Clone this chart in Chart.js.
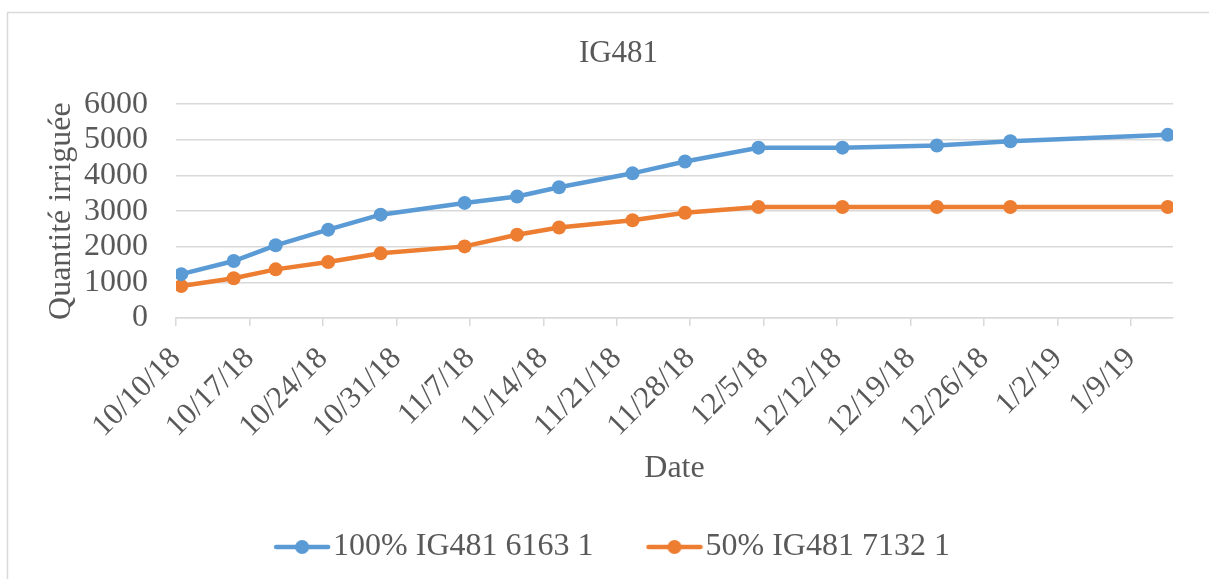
<!DOCTYPE html>
<html lang="fr">
<head>
    <meta charset="UTF-8">
    <title>IG481</title>
    <style>
        html, body { margin: 0; padding: 0; background: #fff; }
        #wrap { width: 1209px; height: 579px; }
    </style>
    <script src="https://cdn.jsdelivr.net/npm/chart.js"></script>
</head>
<body>
    <div id="wrap"><canvas id="chart" width="1209" height="579"></canvas></div>
    <script>
        // données
        const dates = ['10/10/18', '10/15/18', '10/19/18', '10/24/18', '10/29/18', '11/6/18', '11/11/18', '11/15/18',
                       '11/22/18', '11/27/18', '12/4/18', '12/12/18', '12/21/18', '12/28/18', '1/12/19'];
        const irr100 = [1230, 1600, 2040, 2480, 2900, 3230, 3410, 3670, 4060, 4390, 4780, 4780, 4840, 4960, 5140];
        const irr50 = [900, 1115, 1365, 1570, 1815, 2010, 2335, 2540, 2745, 2955, 3115, 3115, 3115, 3115, 3115];
        const tickLabels = ['10/10/18', '10/17/18', '10/24/18', '10/31/18', '11/7/18', '11/14/18', '11/21/18',
                            '11/28/18', '12/5/18', '12/12/18', '12/19/18', '12/26/18', '1/2/19', '1/9/19'];
        const seriesNames = ['100% IG481 6163 1', '50% IG481 7132 1'];
        const colors = ['#5B9BD5', '#ED7D31'];

        const textColor = '#595959';
        const gridColor = '#D9D9D9';
        const serif = '"Liberation Serif", "Times New Roman", serif';

        // jours depuis la première date
        function toDay(s) {
            const p = s.split('/');
            return Date.UTC(2000 + (+p[2]), p[0] - 1, +p[1]) / 86400000;
        }
        const day0 = toDay(dates[0]);
        const dayOf = s => toDay(s) - day0;

        function points(vals) {
            // Excel place le point au milieu du jour
            return dates.map((d, i) => ({ x: dayOf(d) + 0.5, y: vals[i] }));
        }

        function legendIcon(color) {
            const c = document.createElement('canvas');
            c.width = 58; c.height = 16;
            const g = c.getContext('2d');
            g.strokeStyle = color;
            g.lineWidth = 4.5;
            g.lineCap = 'round';
            g.beginPath(); g.moveTo(3, 8); g.lineTo(55, 8); g.stroke();
            g.fillStyle = color;
            g.beginPath(); g.arc(29, 8, 7, 0, Math.PI * 2); g.fill();
            return c;
        }
        const icons = colors.map(legendIcon);

        const framePlugin = {
            id: 'frame',
            beforeDraw(chart) {
                const ctx = chart.ctx;
                ctx.save();
                ctx.fillStyle = '#fff';
                ctx.fillRect(0, 0, chart.width, chart.height);
                ctx.strokeStyle = gridColor;
                ctx.lineWidth = 1.5;
                ctx.strokeRect(7.5, 12.5, 1400, 800);
                ctx.restore();
            }
        };

        const ctx = document.getElementById('chart').getContext('2d');
        const chart = new Chart(ctx, {
            type: 'line',
            data: {
                datasets: [irr100, irr50].map((vals, i) => ({
                    label: seriesNames[i],
                    data: points(vals),
                    borderColor: colors[i],
                    backgroundColor: colors[i],
                    borderWidth: 4.5,
                    pointRadius: 7,
                    pointBorderWidth: 0,
                    pointBackgroundColor: colors[i],
                    pointStyle: 'circle',
                    tension: 0,
                    fill: false
                }))
            },
            options: {
                responsive: false,
                animation: false,
                devicePixelRatio: 1,
                layout: { padding: { left: 64, right: 36, top: 0, bottom: 6 } },
                plugins: {
                    title: {
                        display: true,
                        text: 'IG481',
                        color: textColor,
                        font: { family: serif, size: 31, weight: 'normal' },
                        padding: { top: 35, bottom: 32 }
                    },
                    legend: {
                        position: 'bottom',
                        labels: {
                            color: textColor,
                            font: { family: serif, size: 32 },
                            usePointStyle: true,
                            pointStyleWidth: 30,
                            padding: 66,
                            generateLabels: (c) => c.data.datasets.map((ds, i) => ({
                                text: ds.label,
                                fillStyle: colors[i],
                                strokeStyle: colors[i],
                                lineWidth: 0,
                                pointStyle: icons[i],
                                fontColor: textColor,
                                datasetIndex: i
                            }))
                        }
                    },
                    tooltip: { enabled: false }
                },
                scales: {
                    x: {
                        type: 'linear',
                        min: 0,
                        max: dayOf(dates[dates.length - 1]) + 1,
                        afterBuildTicks: (axis) => {
                            axis.ticks = tickLabels.map(t => ({ value: dayOf(t) }));
                        },
                        afterFit: (axis) => { axis.height = 147; },
                        grid: {
                            drawOnChartArea: false,
                            drawTicks: true,
                            tickLength: 8,
                            color: gridColor,
                            lineWidth: 1.5
                        },
                        border: { display: true, color: gridColor, width: 1.5 },
                        ticks: {
                            autoSkip: false,
                            minRotation: 45,
                            maxRotation: 45,
                            padding: 19,
                            color: textColor,
                            font: { family: serif, size: 31, lineHeight: 0.8 },
                            callback: (v, i) => tickLabels[i]
                        },
                        title: {
                            display: true,
                            text: 'Date',
                            color: textColor,
                            font: { family: serif, size: 32 },
                            padding: { top: 0, bottom: -23 }
                        }
                    },
                    y: {
                        min: 0,
                        max: 6000,
                        afterFit: (axis) => { axis.width = 112; },
                        grid: {
                            drawTicks: false,
                            color: gridColor,
                            lineWidth: 1.5
                        },
                        border: { display: false },
                        ticks: {
                            stepSize: 1000,
                            autoSkip: false,
                            padding: 28,
                            color: textColor,
                            font: { family: serif, size: 32 },
                            callback: (v) => String(v)
                        },
                        title: {
                            display: true,
                            text: 'Quantité irriguée',
                            color: textColor,
                            font: { family: serif, size: 32 },
                            padding: { top: -22, bottom: 0 }
                        }
                    }
                }
            },
            plugins: [framePlugin]
        });
    </script>
</body>
</html>
